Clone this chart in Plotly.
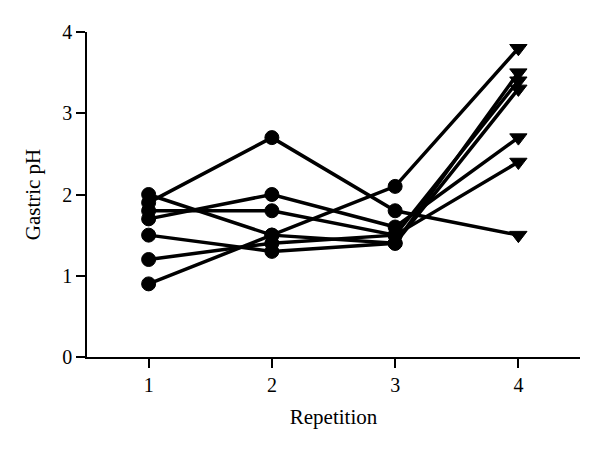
import plotly.graph_objects as go

repetition = [1, 2, 3, 4]

# gastric pH per subject across repetitions
subjects = [
    [1.9, 2.7, 1.8, 1.5],
    [0.9, 1.5, 2.1, 3.8],
    [1.7, 2.0, 1.6, 2.7],
    [1.8, 1.8, 1.5, 3.4],
    [2.0, 1.5, 1.4, 3.5],
    [1.5, 1.3, 1.4, 3.3],
    [1.2, 1.4, 1.5, 2.4],
]

x_ticks = [1, 2, 3, 4]
y_ticks = [0, 1, 2, 3, 4]

fig = go.Figure()
for vals in subjects:
    fig.add_trace(go.Scatter(
        x=repetition,
        y=vals,
        mode="lines+markers",
        line=dict(color="black", width=3.5),
        marker=dict(
            color="black",
            opacity=1,
            size=[14, 14, 14, 15],
            symbol=["circle", "circle", "circle", "triangle-down"],
            line=dict(color="black", width=1),
        ),
        showlegend=False,
    ))

font_family = "Liberation Serif, DejaVu Serif, serif"

# page body has an 8px margin, so the figure is sized to fit inside it
fig.update_layout(
    width=584,
    height=433,
    paper_bgcolor="white",
    plot_bgcolor="white",
    margin=dict(l=79, r=12, t=24, b=84),
    font=dict(family=font_family, size=20, color="black"),
    xaxis=dict(
        range=[0.5, 4.5],
        tickvals=x_ticks,
        ticks="outside",
        ticklen=9,
        tickwidth=1.5,
        tickcolor="black",
        showline=True,
        linecolor="black",
        linewidth=1.5,
        showgrid=False,
        zeroline=False,
        title=dict(text="Repetition", font=dict(size=21), standoff=15),
    ),
    yaxis=dict(
        range=[0, 4],
        tickvals=y_ticks,
        ticks="outside",
        ticklen=9,
        tickwidth=1.5,
        tickcolor="black",
        showline=True,
        linecolor="black",
        linewidth=1.5,
        showgrid=False,
        zeroline=False,
        title=dict(text="Gastric pH", font=dict(size=21), standoff=16),
    ),
)

fig.write_html("out.html")
